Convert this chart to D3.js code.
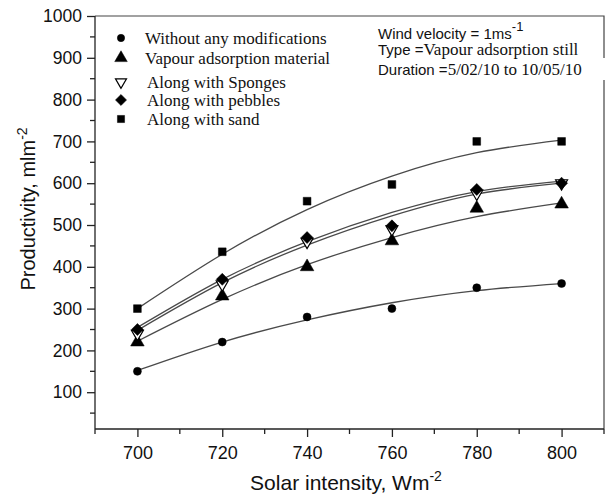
<!DOCTYPE html>
<html>
<head>
<meta charset="utf-8">
<script src="https://cdn.jsdelivr.net/npm/d3@7"></script>
<style>
  body { margin: 0; background: #fff; }
  .axis text { font-family: "Liberation Sans", Arial, sans-serif; fill: #111; }
  .axis path, .axis line { stroke: #222; stroke-width: 1.3; }
  .legend text { font-family: "Liberation Serif", "Times New Roman", serif; font-size: 17px; fill: #111; }
  .note { font-family: "Liberation Sans", Arial, sans-serif; font-size: 15px; fill: #111; }
  .note .serif { font-family: "Liberation Serif", "Times New Roman", serif; font-size: 17px; }
</style>
</head>
<body>
<svg id="chart"></svg>
<script>
// Solar intensity (x) values
const intensity = [700, 720, 740, 760, 780, 800];

// measured productivity points
const withoutMod = [150, 220, 280, 300, 350, 360];
const vapourMat  = [220, 330, 400, 462, 540, 550];
const sponges    = [240, 358, 460, 490, 575, 600];
const pebbles    = [250, 370, 470, 498, 585, 600];
const sand       = [300, 436, 557, 597, 700, 700];

// fitted curve values
const fitWithout = [152, 220, 273, 314, 343, 360];
const fitVapour  = [222, 322, 405, 470, 520, 553];
const fitSponges = [248, 362, 452, 522, 574, 600];
const fitPebbles = [255, 370, 460, 530, 580, 605];
const fitSand    = [300, 430, 537, 617, 673, 703];

const seriesNames = [
  'Without any modifications',
  'Vapour adsorption material',
  'Along with Sponges',
  'Along with pebbles',
  'Along with sand'
];

const xTicks = [700, 720, 740, 760, 780, 800];
const yTicks = [100, 200, 300, 400, 500, 600, 700, 800, 900, 1000];

const series = [
  {name: seriesNames[0], pts: withoutMod, fit: fitWithout, shape: 'circle'},
  {name: seriesNames[1], pts: vapourMat,  fit: fitVapour,  shape: 'triangle'},
  {name: seriesNames[2], pts: sponges,    fit: fitSponges, shape: 'downTriangle'},
  {name: seriesNames[3], pts: pebbles,    fit: fitPebbles, shape: 'diamond'},
  {name: seriesNames[4], pts: sand,       fit: fitSand,    shape: 'square'}
];

const W = 606, H = 496;
const svg = d3.select('#chart').attr('width', W).attr('height', H);

const plot = {left: 95, right: 604, top: 16, bottom: 429};

const x = d3.scaleLinear().domain([690, 810]).range([plot.left, plot.right]);
const y = d3.scaleLinear().domain([12, 1000]).range([plot.bottom, plot.top]);

// frame (top + right)
svg.append('path')
    .attr('d', `M${plot.left},${plot.top}H${plot.right}V${plot.bottom}`)
    .attr('fill', 'none')
    .attr('stroke', '#444')
    .attr('stroke-width', 1.2);

// minor ticks
const xMinor = d3.range(690, 811, 10).filter(v => !xTicks.includes(v));
const yMinor = d3.range(50, 1000, 100);

const xAxisG = svg.append('g')
    .attr('class', 'axis')
    .attr('transform', `translate(0,${plot.bottom})`)
    .call(d3.axisBottom(x).tickValues(xTicks).tickSize(8).tickPadding(9).tickFormat(d3.format('d')));
xAxisG.select('.domain').attr('d', `M${plot.left},0H${plot.right}`);
xAxisG.selectAll('text').style('font-size', '18px');
xAxisG.selectAll('.minor').data(xMinor).join('line')
    .attr('class', 'minor')
    .attr('x1', d => x(d)).attr('x2', d => x(d))
    .attr('y1', 0).attr('y2', 5);

const yAxisG = svg.append('g')
    .attr('class', 'axis')
    .attr('transform', `translate(${plot.left},0)`)
    .call(d3.axisLeft(y).tickValues(yTicks).tickSize(8).tickPadding(5).tickFormat(d3.format('d')));
yAxisG.select('.domain').attr('d', `M0,${plot.top}V${plot.bottom}`);
yAxisG.selectAll('text').style('font-size', '17.5px');
yAxisG.selectAll('.minor').data(yMinor).join('line')
    .attr('class', 'minor')
    .attr('y1', d => y(d)).attr('y2', d => y(d))
    .attr('x1', 0).attr('x2', -5);

// axis titles
svg.append('text')
    .attr('x', 346).attr('y', 490)
    .attr('text-anchor', 'middle')
    .style('font-family', '"Liberation Sans", Arial, sans-serif')
    .style('font-size', '21px')
    .attr('fill', '#111')
    .call(t => {
      t.append('tspan').text('Solar intensity, Wm');
      t.append('tspan').attr('dy', -9).style('font-size', '14px').text('-2');
    });

svg.append('text')
    .attr('transform', 'translate(35,209) rotate(-90)')
    .attr('text-anchor', 'middle')
    .style('font-family', '"Liberation Sans", Arial, sans-serif')
    .style('font-size', '20px')
    .attr('fill', '#111')
    .call(t => {
      t.append('tspan').text('Productivity, mlm');
      t.append('tspan').attr('dy', -8).style('font-size', '14px').text('-2');
    });

// symbol generator
function symbolPath(shape, scale) {
  const s = scale || 1;
  if (shape === 'circle') return d3.symbol(d3.symbolCircle, 50 * s)();
  if (shape === 'triangle') return d3.symbol(d3.symbolTriangle, 80 * s)();
  if (shape === 'downTriangle') return d3.symbol(d3.symbolTriangle, 62 * s)();
  if (shape === 'diamond') return d3.symbol(d3.symbolSquare, 72 * s)();
  return d3.symbol(d3.symbolSquare, 60 * s)();
}
function symbolRotate(shape) {
  if (shape === 'downTriangle') return ' rotate(180)';
  if (shape === 'diamond') return ' rotate(45)';
  return '';
}

// fitted curves
const line = d3.line()
    .x((d, i) => x(intensity[i]))
    .y(d => y(d))
    .curve(d3.curveNatural);

svg.append('g').selectAll('path')
    .data(series)
  .join('path')
    .attr('d', d => line(d.fit))
    .attr('fill', 'none')
    .attr('stroke', '#4a4a4a')
    .attr('stroke-width', 1.3);

// data markers
series.forEach(s => {
  svg.append('g').selectAll('path')
      .data(s.pts)
    .join('path')
      .attr('d', symbolPath(s.shape))
      .attr('transform', (d, i) => `translate(${x(intensity[i])},${y(d)})` + symbolRotate(s.shape))
      .attr('fill', s.shape === 'downTriangle' ? '#fff' : '#000')
      .attr('stroke', '#000')
      .attr('stroke-width', s.shape === 'downTriangle' ? 1.2 : 0.5);
});

// legend
const legendRowY = [38, 58, 82, 100, 119];
const legend = svg.append('g').attr('class', 'legend');
series.forEach((s, i) => {
  const g = legend.append('g').attr('transform', `translate(121,${legendRowY[i]})`);
  g.append('path')
      .attr('d', symbolPath(s.shape, 0.85))
      .attr('transform', symbolRotate(s.shape) || null)
      .attr('fill', s.shape === 'downTriangle' ? '#fff' : '#000')
      .attr('stroke', '#000')
      .attr('stroke-width', s.shape === 'downTriangle' ? 1.2 : 0.5);
  g.append('text')
      .attr('x', i < 2 ? 24 : 26)
      .attr('y', 5.5)
      .text(s.name);
});

// condition notes
svg.append('rect')
    .attr('x', 450).attr('y', 58).attr('width', 156).attr('height', 22)
    .attr('fill', '#fff');

const note = svg.append('g').attr('class', 'note');
note.append('text').attr('x', 378).attr('y', 39)
    .call(t => {
      t.append('tspan').text('Wind velocity = 1ms');
      t.append('tspan').attr('dy', -8).style('font-size', '13px').text('-1');
    });
note.append('text').attr('x', 378).attr('y', 55)
    .call(t => {
      t.append('tspan').text('Type =');
      t.append('tspan').attr('class', 'serif').text('Vapour adsorption still');
    });
note.append('text').attr('x', 378).attr('y', 75)
    .call(t => {
      t.append('tspan').text('Duration =');
      t.append('tspan').attr('class', 'serif').text('5/02/10 to 10/05/10');
    });
</script>
</body>
</html>
